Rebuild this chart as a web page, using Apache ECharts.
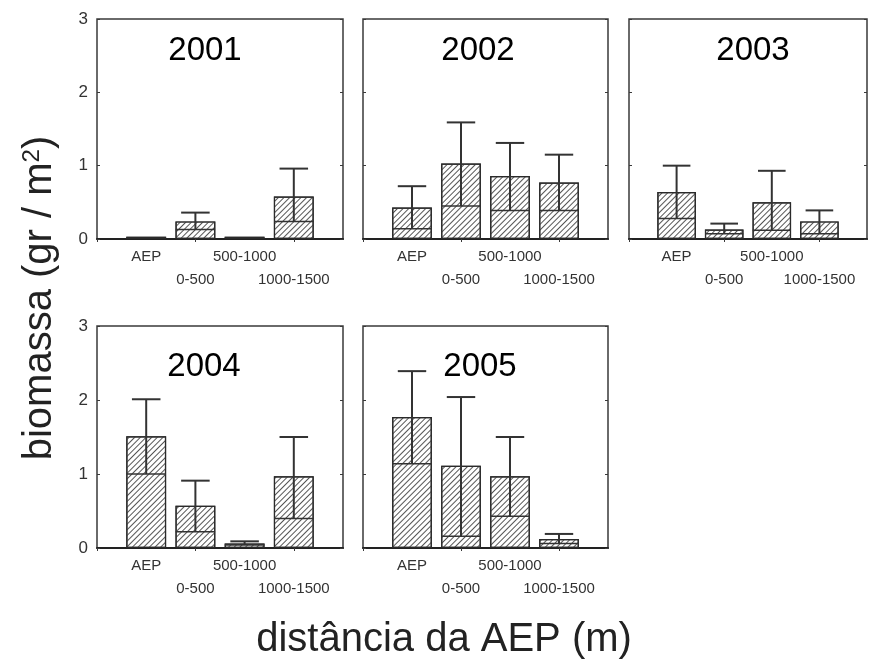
<!DOCTYPE html>
<html>
<head>
<meta charset="utf-8">
<script src="https://cdn.jsdelivr.net/npm/echarts@6/dist/echarts.min.js"></script>
<style>
  html, body { margin: 0; padding: 0; background: #fff; }
  #chart { width: 870px; height: 665px; }
</style>
</head>
<body>
<div id="chart"></div>
<script>
var categories = ['AEP', '0-500', '500-1000', '1000-1500'];
var years = ['2001', '2002', '2003', '2004', '2005'];
var yTicks = [0, 1, 2, 3];

// bar heights, lower and upper error limits (gr / m2)
var mean2001 = [0.03, 0.24, 0.03, 0.58];
var low2001  = [null, 0.13, null, 0.24];
var high2001 = [null, 0.36, null, 0.96];

var mean2002 = [0.43, 1.03, 0.86, 0.77];
var low2002  = [0.14, 0.45, 0.39, 0.39];
var high2002 = [0.72, 1.59, 1.31, 1.15];

var mean2003 = [0.64, 0.13, 0.50, 0.24];
var low2003  = [0.28, 0.07, 0.12, 0.07];
var high2003 = [1.00, 0.21, 0.93, 0.39];

var mean2004 = [1.51, 0.57, 0.06, 0.97];
var low2004  = [1.00, 0.22, 0.04, 0.40];
var high2004 = [2.01, 0.91, 0.09, 1.50];

var mean2005 = [1.77, 1.11, 0.97, 0.12];
var low2005  = [1.14, 0.16, 0.43, 0.06];
var high2005 = [2.39, 2.04, 1.50, 0.19];

var means = [mean2001, mean2002, mean2003, mean2004, mean2005];
var lows  = [low2001, low2002, low2003, low2004, low2005];
var highs = [high2001, high2002, high2003, high2004, high2005];

// panel boxes (px)
var panels = [
    {left: 97,  top: 19,  width: 246, height: 220, labels: true,  tx: 205, ty: 51},
    {left: 363, top: 19,  width: 245, height: 220, labels: false, tx: 478, ty: 51},
    {left: 629, top: 19,  width: 245, height: 220, labels: false, tx: 753, ty: 51},
    {left: 97,  top: 326, width: 246, height: 222, labels: true,  tx: 204, ty: 367},
    {left: 363, top: 326, width: 245, height: 222, labels: false, tx: 480, ty: 367}
];

var axisCats = [''].concat(categories).concat(['']);
var lineColor = '#3a3a3a';

var grids = [], xAxes = [], yAxes = [], series = [], graphics = [];

function renderError(params, api) {
    var lo = api.value(1), hi = api.value(2);
    if (lo == null || hi == null || isNaN(lo) || isNaN(hi)) return;
    var x = api.value(0);
    var pLo = api.coord([x, lo]);
    var pHi = api.coord([x, hi]);
    var band = api.size([1, 0])[0];
    var cap = band * 0.29;
    var half = band * 0.4;
    var st = {stroke: '#333', lineWidth: 2};
    return {
        type: 'group',
        children: [
            {type: 'line', shape: {x1: pLo[0], y1: pLo[1], x2: pHi[0], y2: pHi[1]}, style: st},
            {type: 'line', shape: {x1: pHi[0] - cap, y1: pHi[1], x2: pHi[0] + cap, y2: pHi[1]}, style: st},
            {type: 'line', shape: {x1: pLo[0] - half, y1: pLo[1], x2: pLo[0] + half, y2: pLo[1]}, style: {stroke: '#333', lineWidth: 1.5}}
        ]
    };
}

panels.forEach(function (p, i) {
    grids.push({
        left: p.left, top: p.top, width: p.width, height: p.height,
        show: true, borderColor: lineColor, borderWidth: 1.5, backgroundColor: 'transparent'
    });
    // bottom category axis
    xAxes.push({
        type: 'category', gridIndex: i, data: axisCats, boundaryGap: false,
        axisLine: {show: true, lineStyle: {color: '#222', width: 2}},
        axisTick: {show: false},
        axisLabel: {
            interval: 0, margin: 6, fontSize: 15, lineHeight: 23, color: '#333',
            fontFamily: 'Liberation Sans',
            formatter: function (v, idx) { return idx % 2 === 0 ? '\n' + v : v; }
        }
    });
    // top axis, ticks only
    xAxes.push({
        type: 'category', gridIndex: i, data: axisCats, boundaryGap: false, position: 'top',
        axisLine: {show: false},
        axisTick: {show: true, inside: true, length: 3, lineStyle: {color: lineColor}},
        axisLabel: {show: false}
    });
    yAxes.push({
        type: 'value', gridIndex: i, min: yTicks[0], max: yTicks[yTicks.length - 1], interval: 1,
        splitLine: {show: false},
        axisLine: {show: false},
        axisTick: {show: true, inside: true, length: 3, lineStyle: {color: lineColor}},
        axisLabel: {show: p.labels, margin: 9, fontSize: 17, color: '#333', fontFamily: 'Liberation Sans'}
    });
    yAxes.push({
        type: 'value', gridIndex: i, position: 'right', min: yTicks[0], max: yTicks[yTicks.length - 1], interval: 1,
        splitLine: {show: false},
        axisLine: {show: false},
        axisTick: {show: true, inside: true, length: 3, lineStyle: {color: lineColor}},
        axisLabel: {show: false}
    });

    series.push({
        type: 'bar', name: years[i], xAxisIndex: i * 2, yAxisIndex: i * 2,
        barWidth: '81%',
        data: categories.map(function (c, k) { return [c, means[i][k]]; }),
        itemStyle: {
            color: '#ffffff',
            borderColor: '#2a2a2a', borderWidth: 1.2,
            decal: {
                symbol: 'rect', symbolSize: 1,
                dashArrayX: [1, 0], dashArrayY: [1, 2.6],
                rotation: -Math.PI / 4, color: '#555'
            }
        },
        silent: true
    });
    series.push({
        type: 'custom', name: years[i] + ' erro', xAxisIndex: i * 2, yAxisIndex: i * 2,
        renderItem: renderError,
        encode: {x: 0, y: [1, 2]},
        data: categories.map(function (c, k) { return [c, lows[i][k], highs[i][k]]; }),
        z: 5, silent: true
    });

    graphics.push({
        type: 'text', x: p.tx, y: p.ty,
        style: {
            text: years[i], font: '33px "Liberation Sans"', fill: '#000',
            textAlign: 'center', textVerticalAlign: 'middle'
        }
    });
});

graphics.push({
    type: 'text', x: 40, y: 298, rotation: Math.PI / 2,
    style: {
        text: 'biomassa (gr / m{sup|2})',
        font: '40px "Liberation Sans"', fill: '#222',
        rich: {sup: {fontSize: 24, verticalAlign: 'top', fontFamily: 'Liberation Sans', fill: '#222'}},
        textAlign: 'center', textVerticalAlign: 'middle'
    }
});
graphics.push({
    type: 'text', x: 444, y: 640,
    style: {
        text: 'distância da AEP (m)', font: '40px "Liberation Sans"', fill: '#222',
        textAlign: 'center', textVerticalAlign: 'middle'
    }
});

var chart = echarts.init(document.getElementById('chart'));
chart.setOption({
    animation: false,
    backgroundColor: '#fff',
    grid: grids,
    xAxis: xAxes,
    yAxis: yAxes,
    series: series,
    graphic: graphics
});
</script>
</body>
</html>
